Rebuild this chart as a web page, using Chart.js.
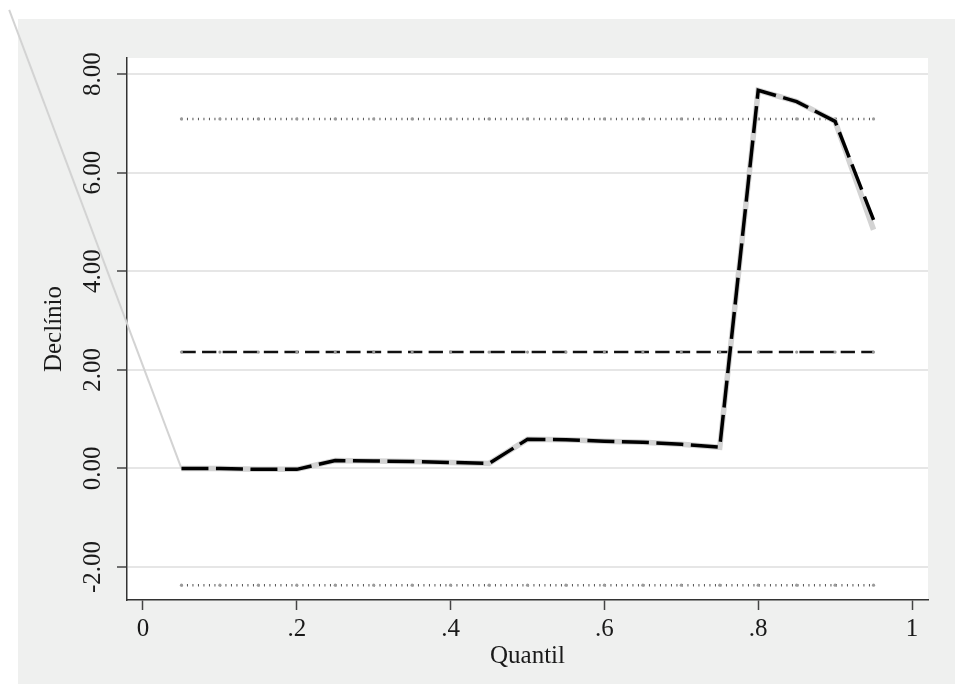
<!DOCTYPE html>
<html><head><meta charset="utf-8">
<script src="https://cdn.jsdelivr.net/npm/chart.js@4.4.1/dist/chart.umd.min.js"></script>
<style>html,body{margin:0;padding:0;background:#fff;} canvas{display:block;}</style>
</head><body>
<canvas id="c" width="955" height="684"></canvas>
<script>
const quantiles = [0.05,0.10,0.15,0.20,0.25,0.30,0.35,0.40,0.45,0.50,0.55,0.60,0.65,0.70,0.75,0.80,0.85,0.90,0.95];
const quantileCoef = [0.00,0.00,-0.02,-0.02,0.16,0.15,0.14,0.12,0.10,0.59,0.58,0.55,0.53,0.49,0.43,7.67,7.44,7.04,5.04];
const smoothedCoef = [0.00,0.00,-0.02,-0.02,0.16,0.15,0.14,0.12,0.10,0.59,0.58,0.55,0.53,0.49,0.43,7.67,7.44,7.04,4.84];
const olsCoef = [2.36,2.36,2.36,2.36,2.36,2.36,2.36,2.36,2.36,2.36,2.36,2.36,2.36,2.36,2.36,2.36,2.36,2.36,2.36];
const ciUpper = [7.09,7.09,7.09,7.09,7.09,7.09,7.09,7.09,7.09,7.09,7.09,7.09,7.09,7.09,7.09,7.09,7.09,7.09,7.09];
const ciLower = [-2.37,-2.37,-2.37,-2.37,-2.37,-2.37,-2.37,-2.37,-2.37,-2.37,-2.37,-2.37,-2.37,-2.37,-2.37,-2.37,-2.37,-2.37,-2.37];
const leadX = [-0.174, 0.05];
const leadY = [9.30, 0.00];
const xTicks = [0, 0.2, 0.4, 0.6, 0.8, 1];
const xTickLabels = ['0', '.2', '.4', '.6', '.8', '1'];
const yTicks = [-2, 0, 2, 4, 6, 8];
const yTickLabels = ['-2.00', '0.00', '2.00', '4.00', '6.00', '8.00'];
const xTitle = 'Quantil';
const yTitle = 'Declínio';

const FONT = '"Liberation Serif", "Times New Roman", serif';
const pts = (xs, ys) => xs.map((x, i) => ({x: x, y: ys[i]}));

const bgPlugin = {
  id: 'bg',
  beforeDraw(chart) {
    const {ctx, chartArea: a, width, height} = chart;
    ctx.save();
    ctx.fillStyle = '#ffffff'; ctx.fillRect(0, 0, width, height);
    ctx.fillStyle = '#eff0ef'; ctx.fillRect(18, 19, width - 18, height - 19);
    ctx.fillStyle = '#ffffff'; ctx.fillRect(a.left, a.top, a.right - a.left, a.bottom - a.top);
    ctx.restore();
  },
  beforeDatasetsDraw(chart) {
    const {ctx, scales: {y}} = chart;
    ctx.save();
    ctx.font = '25px ' + FONT;
    ctx.fillStyle = '#1a1a1a';
    ctx.textAlign = 'center';
    ctx.textBaseline = 'alphabetic';
    yTicks.forEach((v, i) => {
      const py = y.getPixelForValue(v);
      ctx.save();
      ctx.translate(100, py);
      ctx.rotate(-Math.PI / 2);
      ctx.fillText(yTickLabels[i], 0, 0);
      ctx.restore();
    });
    ctx.restore();
  }
};

new Chart(document.getElementById('c'), {
  type: 'line',
  data: {
    datasets: [
      {data: pts(quantiles, quantileCoef), borderColor: '#000', borderWidth: 3.5, borderDash: [27, 7.5], pointRadius: 0, tension: 0, fill: false},
      {data: pts(quantiles, smoothedCoef), borderColor: '#d3d3d3', borderWidth: 5.5, pointRadius: 0, tension: 0, fill: false},
      {data: pts(quantiles, olsCoef), borderColor: '#111', borderWidth: 2.5, borderDash: [14.3, 6.3], pointRadius: 1.6, pointBackgroundColor: '#9a9a9a', pointBorderWidth: 0, tension: 0, fill: false},
      {data: pts(quantiles, ciUpper), borderColor: '#555', borderWidth: 2.5, borderDash: [1, 4.5], pointRadius: 1.6, pointBackgroundColor: '#9a9a9a', pointBorderWidth: 0, tension: 0, fill: false},
      {data: pts(quantiles, ciLower), borderColor: '#555', borderWidth: 2.5, borderDash: [1, 4.5], pointRadius: 1.6, pointBackgroundColor: '#9a9a9a', pointBorderWidth: 0, tension: 0, fill: false},
      {data: pts(leadX, leadY), borderColor: '#d3d3d3', borderWidth: 2, pointRadius: 0, tension: 0, fill: false, clip: false}
    ]
  },
  options: {
    responsive: false,
    animation: false,
    devicePixelRatio: 1,
    layout: {padding: {left: 0, top: 58, right: 27, bottom: 0}},
    plugins: {legend: {display: false}, tooltip: {enabled: false}},
    scales: {
      x: {
        type: 'linear',
        min: -0.0208, max: 1.0208,
        afterBuildTicks: (s) => { s.ticks = xTicks.map(v => ({value: v})); },
        afterFit: (s) => { s.height = 84; },
        ticks: {
          callback: (v, i) => xTickLabels[i],
          font: {family: FONT, size: 25},
          color: '#1a1a1a',
          padding: 4,
          maxRotation: 0, minRotation: 0,
          autoSkip: false
        },
        grid: {drawOnChartArea: false, drawTicks: true, tickLength: 10, tickColor: '#444', tickWidth: 1.5},
        border: {display: true, color: '#333', width: 1.5},
        title: {display: true, text: xTitle, font: {family: FONT, size: 25}, color: '#1a1a1a', padding: {top: 0, bottom: 13}}
      },
      y: {
        type: 'linear',
        min: -2.67, max: 8.325,
        afterBuildTicks: (s) => { s.ticks = yTicks.map(v => ({value: v})); },
        afterFit: (s) => { s.width = 127; },
        ticks: {display: false},
        grid: {drawOnChartArea: true, color: '#e6e6e6', lineWidth: 2, drawTicks: true, tickLength: 10, tickColor: '#444', tickWidth: 1.5},
        border: {display: true, color: '#333', width: 1.5},
        title: {display: true, text: yTitle, font: {family: FONT, size: 25}, color: '#1a1a1a', padding: {top: 39, bottom: 0}}
      }
    }
  },
  plugins: [bgPlugin]
});
</script>
</body></html>
